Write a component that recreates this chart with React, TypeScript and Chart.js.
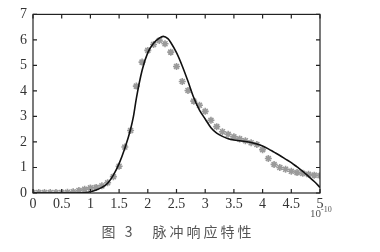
import React, { useEffect, useRef } from "react";
import { Chart, registerables } from "chart.js";

Chart.register(...registerables);

const starX = [0, 0.1, 0.2, 0.3, 0.4, 0.5, 0.6, 0.7, 0.8, 0.9, 1.0, 1.1, 1.2, 1.3, 1.4, 1.5, 1.6, 1.7, 1.8, 1.9, 2.0, 2.1, 2.2, 2.3, 2.4, 2.5, 2.6, 2.7, 2.8, 2.9, 3.0, 3.1, 3.2, 3.3, 3.4, 3.5, 3.6, 3.7, 3.8, 3.9, 4.0, 4.1, 4.2, 4.3, 4.4, 4.5, 4.6, 4.7, 4.8, 4.9, 5.0];
const starY = [0.02, 0.02, 0.02, 0.02, 0.02, 0.02, 0.03, 0.05, 0.1, 0.15, 0.2, 0.22, 0.28, 0.4, 0.64, 1.05, 1.8, 2.45, 4.19, 5.13, 5.59, 5.82, 5.98, 5.85, 5.52, 4.96, 4.37, 4.02, 3.6, 3.44, 3.2, 2.85, 2.6, 2.4, 2.3, 2.2, 2.12, 2.05, 1.97, 1.9, 1.7, 1.35, 1.12, 1.0, 0.93, 0.85, 0.8, 0.77, 0.73, 0.7, 0.68];

const lineX = [0, 0.5, 0.9, 1.0, 1.1, 1.2, 1.3, 1.4, 1.5, 1.6, 1.7, 1.75, 1.8, 1.9, 2.0, 2.1, 2.2, 2.27, 2.35, 2.4, 2.5, 2.6, 2.7, 2.8, 2.9, 3.0, 3.1, 3.2, 3.3, 3.4, 3.5, 3.6, 3.7, 3.8, 3.9, 4.0, 4.1, 4.2, 4.3, 4.4, 4.5, 4.6, 4.7, 4.8, 4.9, 5.0];
const lineY = [0, 0, 0.01, 0.05, 0.12, 0.22, 0.38, 0.7, 1.15, 1.75, 2.5, 3.0, 3.7, 4.8, 5.5, 5.87, 6.07, 6.14, 6.05, 5.9, 5.5, 4.98, 4.38, 3.74, 3.25, 2.9, 2.56, 2.35, 2.22, 2.13, 2.08, 2.05, 2.02, 1.98, 1.92, 1.84, 1.73, 1.6, 1.47, 1.33, 1.19, 1.02, 0.85, 0.65, 0.45, 0.22];

const xTicks = [0, 0.5, 1, 1.5, 2, 2.5, 3, 3.5, 4, 4.5, 5];
const xTickLabels = ["0", "0.5", "1", "1.5", "2", "2.5", "3", "3.5", "4", "4.5", "5"];
const yTicks = [0, 1, 2, 3, 4, 5, 6, 7];
const yTickLabels = ["0", "1", "2", "3", "4", "5", "6", "7"];
const caption = "图 3　脉冲响应特性";
const exponentBase = "10";
const exponentPower = "-10";

const FONT = "'Liberation Serif', 'Times New Roman', serif";

const framePlugin = {
  id: "frame",
  afterDraw(chart: any) {
    const { ctx, chartArea: a, scales } = chart;
    ctx.save();
    ctx.strokeStyle = "#222";
    ctx.lineWidth = 1.2;
    ctx.strokeRect(a.left, a.top, a.right - a.left, a.bottom - a.top);
    const tl = 4;
    ctx.beginPath();
    xTicks.forEach((v) => {
      const px = scales.x.getPixelForValue(v);
      ctx.moveTo(px, a.bottom);
      ctx.lineTo(px, a.bottom - tl);
      ctx.moveTo(px, a.top);
      ctx.lineTo(px, a.top + tl);
    });
    yTicks.forEach((v) => {
      const py = scales.y.getPixelForValue(v);
      ctx.moveTo(a.left, py);
      ctx.lineTo(a.left + tl, py);
      ctx.moveTo(a.right, py);
      ctx.lineTo(a.right - tl, py);
    });
    ctx.stroke();
    ctx.fillStyle = "#555";
    ctx.font = "11px " + FONT;
    ctx.textBaseline = "alphabetic";
    ctx.textAlign = "left";
    ctx.fillText(exponentBase, a.right - 10, a.bottom + 24);
    ctx.font = "8px " + FONT;
    ctx.fillText(exponentPower, a.right + 1, a.bottom + 19);
    ctx.fillStyle = "#555";
    ctx.font = "14px 'Noto Sans CJK SC', sans-serif";
    ctx.textAlign = "center";
    ctx.textBaseline = "middle";
    (ctx as any).letterSpacing = "3px";
    ctx.fillText(caption, 178, 232);
    ctx.restore();
  },
};

export default function App() {
  const ref = useRef<HTMLCanvasElement>(null);
  useEffect(() => {
    document.body.style.margin = "0";
    const chart = new Chart(ref.current!, {
      type: "line",
      data: {
        datasets: [
          {
            data: lineX.map((x, i) => ({ x, y: lineY[i] })),
            borderColor: "#111",
            borderWidth: 1.6,
            pointRadius: 0,
            cubicInterpolationMode: "monotone",
            fill: false,
          },
          {
            data: starX.map((x, i) => ({ x, y: starY[i] })),
            showLine: false,
            pointStyle: "star",
            pointRadius: 3.5,
            borderColor: "#9a9a9a",
            backgroundColor: "#9a9a9a",
            pointBorderWidth: 1.6,
          },
        ],
      },
      options: {
        animation: false,
        responsive: false,
        maintainAspectRatio: false,
        layout: { padding: { left: 0, right: 60, top: 13, bottom: 0 } },
        plugins: { legend: { display: false }, tooltip: { enabled: false } },
        scales: {
          x: {
            type: "linear",
            min: 0,
            max: 5,
            afterBuildTicks: (s: any) => {
              s.ticks = xTicks.map((v) => ({ value: v }));
            },
            afterFit: (s: any) => {
              s.height = 59;
            },
            grid: { display: false, drawTicks: false },
            border: { display: false },
            ticks: {
              padding: 3,
              color: "#333",
              font: { family: FONT, size: 14 },
              maxRotation: 0,
              autoSkip: false,
              callback: (v: any) => {
                const i = xTicks.indexOf(Number(v));
                return i >= 0 ? xTickLabels[i] : "";
              },
            },
          },
          y: {
            min: 0,
            max: 7,
            afterBuildTicks: (s: any) => {
              s.ticks = yTicks.map((v) => ({ value: v }));
            },
            afterFit: (s: any) => {
              s.width = 33;
            },
            grid: { display: false, drawTicks: false },
            border: { display: false },
            ticks: {
              padding: 6,
              color: "#333",
              font: { family: FONT, size: 14 },
              callback: (v: any) => {
                const i = yTicks.indexOf(Number(v));
                return i >= 0 ? yTickLabels[i] : "";
              },
            },
          },
        },
      },
      plugins: [framePlugin],
    });
    return () => chart.destroy();
  }, []);
  return (
    <div style={{ position: "absolute", left: 0, top: 0, width: 380, height: 252, background: "#fff" }}>
      <canvas ref={ref} width={380} height={252} style={{ width: 380, height: 252 }} />
    </div>
  );
}
